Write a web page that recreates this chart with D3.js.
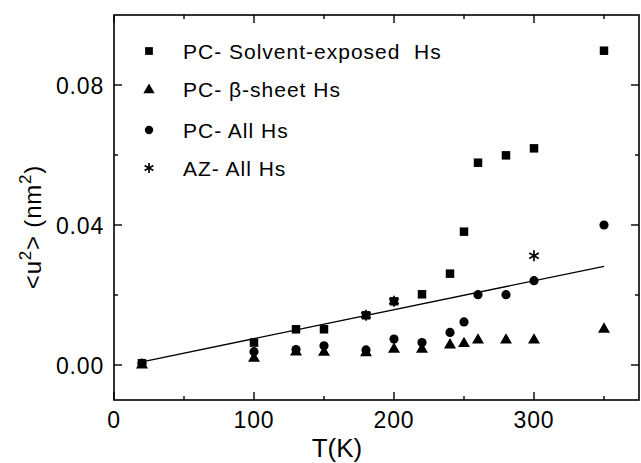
<!DOCTYPE html>
<html><head><meta charset="utf-8">
<script src="https://cdn.jsdelivr.net/npm/d3@7"></script>
<style>
body{margin:0;background:#fff;}
text{font-family:"Liberation Sans",Arial,Helvetica,sans-serif;fill:#000;white-space:pre;}
</style></head>
<body><svg id="c" width="641" height="463"></svg>
<script>
// Data
const tSolvent = [20,100,130,150,180,200,220,240,250,260,280,300,350];
const uSolvent = [0.0005,0.0064,0.0102,0.0102,0.0142,0.0182,0.0202,0.0261,0.0381,0.0578,0.0599,0.0619,0.0898];
const tSheet = [20,100,130,150,180,200,220,240,250,260,280,300,350];
const uSheet = [0.0003,0.0022,0.0040,0.0039,0.0038,0.0048,0.0048,0.0060,0.0064,0.0074,0.0074,0.0074,0.0105];
const tPCAll = [20,100,130,150,180,200,220,240,250,260,280,300,350];
const uPCAll = [0.0005,0.0038,0.0044,0.0055,0.0043,0.0074,0.0064,0.0093,0.0123,0.0201,0.0201,0.0241,0.0400];
const tAZ = [180,200,300];
const uAZ = [0.0142,0.0182,0.0312];
const fitT = [20,350];
const fitU = [0.0009,0.0282];
const xTicks = [0,100,200,300];
const xMinor = [50,150,250,350];
const yTicks = [0.00,0.04,0.08];
const yMinor = [0.02,0.06];
const legendLabels = ["PC- Solvent-exposed  Hs","PC- \u03B2-sheet Hs","PC- All Hs","AZ- All Hs"];

const svg = d3.select("#c");
const L=114, R=639, T=15, B=400;
const x = d3.scaleLinear().domain([0,375]).range([L,R]);
const y = d3.scaleLinear().domain([-0.01,0.1]).range([B,T]);
const g = svg.append("g");

// frame
g.append("rect").attr("x",L).attr("y",T).attr("width",R-L).attr("height",B-T)
 .attr("fill","none").attr("stroke","#000").attr("stroke-width",1.6);

// ticks (inward)
const tk = (v,len,axis)=>{
  if(axis==="x"){
    g.append("line").attr("x1",x(v)).attr("x2",x(v)).attr("y1",B).attr("y2",B-len).attr("stroke","#000").attr("stroke-width",1.4);
    g.append("line").attr("x1",x(v)).attr("x2",x(v)).attr("y1",T).attr("y2",T+len).attr("stroke","#000").attr("stroke-width",1.4);
  } else {
    g.append("line").attr("y1",y(v)).attr("y2",y(v)).attr("x1",L).attr("x2",L+len).attr("stroke","#000").attr("stroke-width",1.4);
    g.append("line").attr("y1",y(v)).attr("y2",y(v)).attr("x1",R).attr("x2",R-len).attr("stroke","#000").attr("stroke-width",1.4);
  }
};
xTicks.forEach(v=>tk(v,8,"x"));
xMinor.forEach(v=>tk(v,4,"x"));
yTicks.forEach(v=>tk(v,8,"y"));
yMinor.forEach(v=>tk(v,4,"y"));

// tick labels
xTicks.forEach(v=>{
  g.append("text").attr("x",x(v)).attr("y",428).attr("text-anchor","middle")
   .style("font-size","23px").style("letter-spacing","0.8px").text(v);
});
yTicks.forEach(v=>{
  g.append("text").attr("x",104).attr("y",y(v)+8.5).attr("text-anchor","end")
   .style("font-size","23px").style("letter-spacing","0.8px").text(d3.format(".2f")(v));
});

// axis titles
g.append("text").attr("x",337).attr("y",457).attr("text-anchor","middle")
 .style("font-size","26px").text("T(K)");
const yl = g.append("text").attr("transform","translate(41,227) rotate(-90)").attr("text-anchor","middle")
 .style("font-size","24px").style("letter-spacing","0.8px");
yl.append("tspan").text("<u");
yl.append("tspan").attr("dy",-10).style("font-size","17px").text("2");
yl.append("tspan").attr("dy",10).text("> (nm");
yl.append("tspan").attr("dy",-10).style("font-size","17px").text("2");
yl.append("tspan").attr("dy",10).text(")");

// fit line
g.append("line").attr("x1",x(fitT[0])).attr("y1",y(fitU[0])).attr("x2",x(fitT[1])).attr("y2",y(fitU[1]))
 .attr("stroke","#000").attr("stroke-width",1.3);

// markers
const sq = d3.symbol().type(d3.symbolSquare).size(72);
const tri = d3.symbol().type(d3.symbolTriangle).size(62);
const circ = d3.symbol().type(d3.symbolCircle).size(66);
function star(sel,cx,cy,s){
  const a = sel.append("g").attr("transform",`translate(${cx},${cy})`);
  [[0,-s,0,s],[-s*0.87,-s*0.5,s*0.87,s*0.5],[-s*0.87,s*0.5,s*0.87,-s*0.5]].forEach(d=>{
    a.append("line").attr("x1",d[0]).attr("y1",d[1]).attr("x2",d[2]).attr("y2",d[3]).attr("stroke","#000").attr("stroke-width",1.7);
  });
}
g.selectAll(".sq").data(tSolvent.map((t,i)=>[t,uSolvent[i]])).enter().append("path")
 .attr("d",sq).attr("transform",d=>`translate(${x(d[0])},${y(d[1])})`);
g.selectAll(".tri").data(tSheet.map((t,i)=>[t,uSheet[i]])).enter().append("path")
 .attr("d",tri).attr("transform",d=>`translate(${x(d[0])},${y(d[1])+1})`);
g.selectAll(".ci").data(tPCAll.map((t,i)=>[t,uPCAll[i]])).enter().append("path")
 .attr("d",circ).attr("transform",d=>`translate(${x(d[0])},${y(d[1])})`);
tAZ.forEach((t,i)=>star(g,x(t),y(uAZ[i]),5.5));

// legend
const ly = [51,89,130,168];
g.append("path").attr("d",d3.symbol().type(d3.symbolSquare).size(60)).attr("transform",`translate(149,${ly[0]})`);
g.append("path").attr("d",d3.symbol().type(d3.symbolTriangle).size(55)).attr("transform",`translate(149,${ly[1]+1})`);
g.append("path").attr("d",d3.symbol().type(d3.symbolCircle).size(55)).attr("transform",`translate(149,${ly[2]})`);
star(g,149,ly[3],5);
legendLabels.forEach((s,i)=>{
  g.append("text").attr("x",183).attr("y",ly[i]+7.5).style("font-size","21px").style("letter-spacing","1px").text(s);
});
</script></body></html>
